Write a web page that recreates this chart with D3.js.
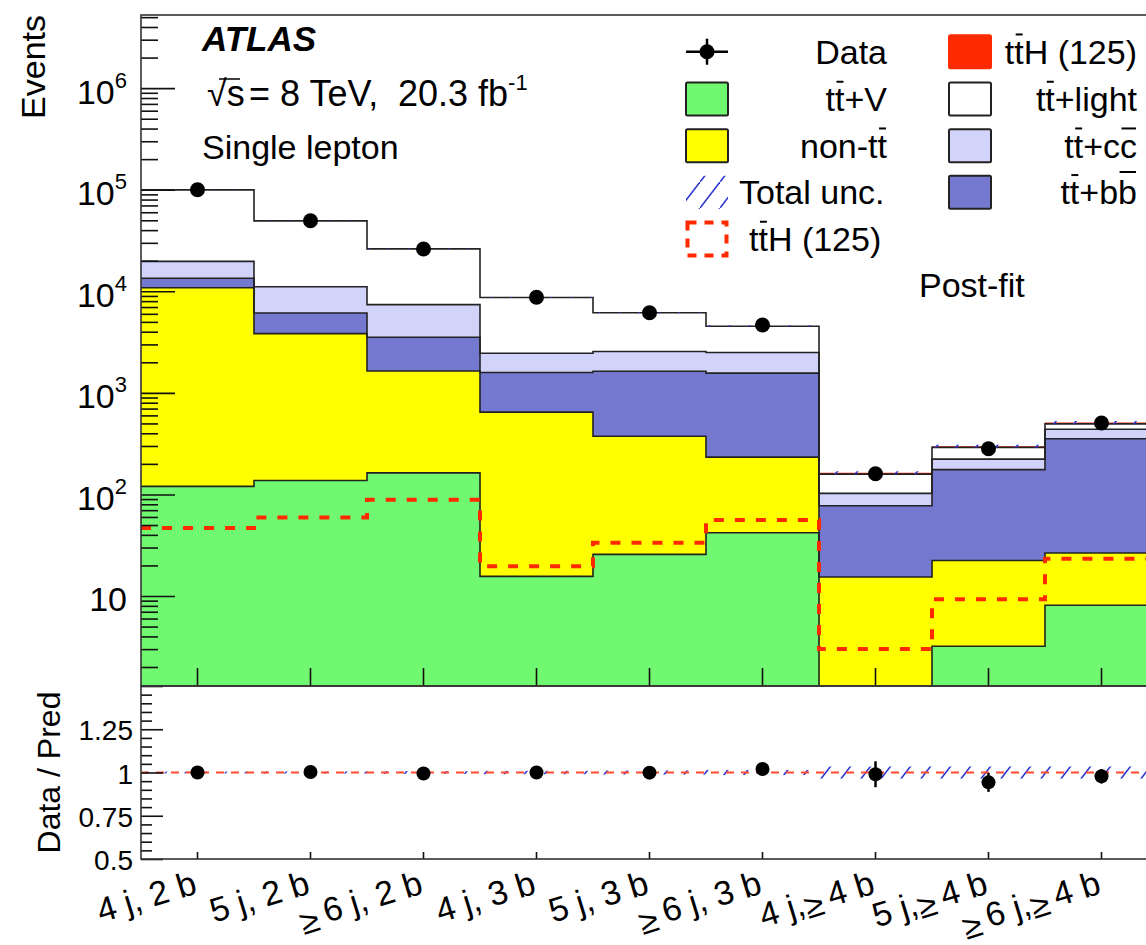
<!DOCTYPE html>
<html>
<head>
<meta charset="utf-8">
<script src="https://cdn.jsdelivr.net/npm/d3@7"></script>
<style>
  body { margin: 0; background: #fff; }
  text { font-family: "Liberation Sans", Arial, Helvetica, sans-serif; fill: #000; }
</style>
</head>
<body>
<div id="chart"></div>
<script>
// categories (jet / b-tag bins)
const categories = ["4 j, 2 b", "5 j, 2 b", "\u2265\u20096 j, 2 b", "4 j, 3 b", "5 j, 3 b", "\u2265\u20096 j, 3 b",
  "4 j,\u2265\u20094 b", "5 j,\u2265\u20094 b", "\u2265\u20096 j,\u2265\u20094 b"];

// post-fit stacked backgrounds (events)
const ttV     = [120, 137, 163, 15.6, 25.7, 42, 1.1, 3.2, 8.1];
const nonTT   = [10700, 3690, 1480, 630, 348, 191, 14.3, 19.2, 18.4];
const ttbb    = [2600, 2290, 1880, 940, 1260, 1330, 62, 153, 327];
const ttcc    = [6300, 4980, 3860, 865, 920, 930, 25, 47, 85];
const ttlight = [80000, 38300, 18800, 6250, 3600, 2040, 56, 68, 57];
const ttHfit  = [25, 30, 45, 10, 16, 28, 5, 8, 15];

// ttH (125) signal overlay, dashed
const ttHsm = [46.7, 59.4, 88.7, 19.6, 33.5, 55.9, 3.0, 9.3, 23.3];

// data
const data = [100000, 49500, 26100, 8750, 6150, 4650, 160, 282, 505];

// ratio panel
const ratio    = [1.0, 1.003, 0.994, 1.0, 0.999, 1.02, 0.99, 0.943, 0.978];
const ratioErr = [0.003, 0.005, 0.006, 0.011, 0.013, 0.015, 0.075, 0.055, 0.042];
const totalUnc = [0.005, 0.006, 0.008, 0.01, 0.012, 0.015, 0.035, 0.035, 0.035];

const W = 1146, H = 945;
const pLeft = 141, pRight = 1158, pTop = 15, mainBottom = 686, ratioBottom = 859;
const yMin = 1.3, yMax = 5.25e6;

const colors = {
  ttV: "#70f870", nonTT: "#ffff00", ttbb: "#7479cf", ttcc: "#d2d3fb", ttlight: "#ffffff", ttH: "#ff2a00"
};
const keys = ["ttV", "nonTT", "ttbb", "ttcc", "ttlight", "ttH"];
const series = { ttV, nonTT, ttbb, ttcc, ttlight, ttH: ttHfit };

const rows = categories.map((c, i) => {
  const r = { cat: c };
  keys.forEach(k => r[k] = series[k][i]);
  return r;
});

const svg = d3.select("#chart").append("svg")
  .attr("width", W).attr("height", H);

const defs = svg.append("defs");
defs.append("clipPath").attr("id", "clipMain")
  .append("rect").attr("x", pLeft).attr("y", pTop).attr("width", pRight - pLeft).attr("height", mainBottom - pTop);
defs.append("clipPath").attr("id", "clipRatio")
  .append("rect").attr("x", pLeft).attr("y", mainBottom).attr("width", pRight - pLeft).attr("height", ratioBottom - mainBottom);

// blue /// hatch
const hatch = defs.append("pattern").attr("id", "hatch")
  .attr("patternUnits", "userSpaceOnUse").attr("width", 20).attr("height", 26);
hatch.append("line").attr("x1", -2).attr("y1", 28.6).attr("x2", 22).attr("y2", -2.6)
  .attr("stroke", "#2a35d0").attr("stroke-width", 1.6);

const x = d3.scaleBand().domain(categories).range([pLeft, pRight]).paddingInner(0).paddingOuter(0);
const bw = x.bandwidth();
const y = d3.scaleLog().domain([yMin, yMax]).range([mainBottom, pTop]);
const yr = d3.scaleLinear().domain([0.5, 1.5]).range([ratioBottom, mainBottom]);
const yc = v => y(Math.max(v, yMin * 0.9));

const stacked = d3.stack().keys(keys)(rows);

const stepPts = s => s.flatMap((d, i) => [
  { x: x(categories[i]), lo: d[0], hi: d[1] },
  { x: x(categories[i]) + bw, lo: d[0], hi: d[1] }
]);

const main = svg.append("g").attr("clip-path", "url(#clipMain)");

const area = d3.area().x(p => p.x).y0(p => yc(p.lo)).y1(p => yc(p.hi));
const topLine = d3.line().x(p => p.x).y(p => yc(p.hi));

main.selectAll("path.layer")
  .data(stacked)
  .join("path")
  .attr("class", "layer")
  .attr("d", s => area(stepPts(s)))
  .attr("fill", s => colors[s.key]);

// black outlines on the backgrounds; the thin red ttH band sits on top unoutlined
main.selectAll("path.outline")
  .data(stacked.filter(s => s.key !== "ttH"))
  .join("path")
  .attr("class", "outline")
  .attr("d", s => topLine(stepPts(s)))
  .attr("fill", "none")
  .attr("stroke", "#222")
  .attr("stroke-width", 1.6);

// total uncertainty band
const totals = stacked[stacked.length - 1].map(d => d[1]);
main.selectAll("rect.unc")
  .data(totals)
  .join("rect")
  .attr("class", "unc")
  .attr("x", (d, i) => x(categories[i]))
  .attr("width", bw)
  .attr("y", (d, i) => y(d * (1 + totalUnc[i])))
  .attr("height", (d, i) => y(d * (1 - totalUnc[i])) - y(d * (1 + totalUnc[i])))
  .attr("fill", "url(#hatch)");

// dashed ttH overlay
const sigPts = ttHsm.flatMap((v, i) => [[x(categories[i]), v], [x(categories[i]) + bw, v]]);
main.append("path")
  .attr("d", d3.line().x(p => p[0]).y(p => yc(p[1]))(sigPts))
  .attr("fill", "none")
  .attr("stroke", "#ff2a00")
  .attr("stroke-width", 4)
  .attr("stroke-dasharray", "10,11");

// data points
main.selectAll("circle.data")
  .data(data)
  .join("circle")
  .attr("class", "data")
  .attr("cx", (d, i) => x(categories[i]) + bw / 2)
  .attr("cy", d => y(d))
  .attr("r", 7.5)
  .attr("fill", "#000");

// ratio panel
const rp = svg.append("g").attr("clip-path", "url(#clipRatio)");
rp.selectAll("rect.unc")
  .data(totalUnc)
  .join("rect")
  .attr("x", (d, i) => x(categories[i]))
  .attr("width", bw)
  .attr("y", d => yr(1 + d))
  .attr("height", d => yr(1 - d) - yr(1 + d))
  .attr("fill", "url(#hatch)");
rp.append("line")
  .attr("x1", pLeft).attr("x2", pRight)
  .attr("y1", yr(1)).attr("y2", yr(1))
  .attr("stroke", "#ff4a30").attr("stroke-width", 2).attr("stroke-dasharray", "8,7");
rp.selectAll("line.err")
  .data(ratio)
  .join("line")
  .attr("class", "err")
  .attr("x1", (d, i) => x(categories[i]) + bw / 2)
  .attr("x2", (d, i) => x(categories[i]) + bw / 2)
  .attr("y1", (d, i) => yr(d + ratioErr[i]))
  .attr("y2", (d, i) => yr(d - ratioErr[i]))
  .attr("stroke", "#000").attr("stroke-width", 2.5);
rp.selectAll("circle")
  .data(ratio)
  .join("circle")
  .attr("cx", (d, i) => x(categories[i]) + bw / 2)
  .attr("cy", d => yr(d))
  .attr("r", 7)
  .attr("fill", "#000");

// axes
const expOf = v => Math.round(Math.log10(v));
const yAxis = svg.append("g").attr("transform", `translate(${pLeft},0)`)
  .call(d3.axisLeft(y)
    .tickValues([10, 1e2, 1e3, 1e4, 1e5, 1e6])
    .tickSize(-34).tickPadding(14)
    .tickFormat(""));
yAxis.selectAll(".tick text").each(function(d) {
  const t = d3.select(this).attr("font-size", 34).attr("dy", "0.44em");
  t.append("tspan").text("10");
  if (d > 10) t.append("tspan").attr("font-size", 22).attr("dy", -16).text(expOf(d));
});

const minorTicks = d3.range(0, 7).flatMap(k => d3.range(2, 10).map(m => m * 10 ** k))
  .filter(v => v > yMin && v < yMax);
svg.append("g").attr("transform", `translate(${pLeft},0)`)
  .call(d3.axisLeft(y).tickValues(minorTicks).tickSize(-17).tickFormat(""));

const rAxis = svg.append("g").attr("transform", `translate(${pLeft},0)`)
  .call(d3.axisLeft(yr).tickValues([0.5, 0.75, 1, 1.25, 1.5]).tickSize(-22).tickPadding(8)
    .tickFormat(d => d === 1.5 ? "" : d));
rAxis.selectAll(".tick text").attr("font-size", 28).attr("dy", "0.38em");
svg.append("g").attr("transform", `translate(${pLeft},0)`)
  .call(d3.axisLeft(yr).tickValues(d3.range(0.55, 1.5, 0.05).filter(v => Math.abs((v - 0.5) / 0.25 - Math.round((v - 0.5) / 0.25)) > 0.01))
    .tickSize(-11).tickFormat(""));

svg.append("g").attr("transform", `translate(0,${mainBottom})`)
  .call(d3.axisBottom(x).tickSize(-18).tickSizeOuter(0).tickFormat(""));

const xAxis = svg.append("g").attr("transform", `translate(0,${ratioBottom})`)
  .call(d3.axisBottom(x).tickSize(-7).tickSizeOuter(0));
xAxis.selectAll(".tick text")
  .attr("font-size", 34)
  .attr("text-anchor", "end")
  .attr("x", 0).attr("y", 0).attr("dy", null)
  .attr("transform", "translate(1,34) rotate(-17)")
  .each(function(d) {
    // the >= sign sits a little below the line, as in the original
    const t = d3.select(this).text(null);
    let low = false;
    d.split(/(\u2265)/).filter(s => s).forEach(part => {
      const isGe = part === "\u2265";
      const dy = isGe ? (low ? 0 : 5) : (low ? -5 : 0);
      t.append("tspan").attr("dy", dy).text(part);
      low = isGe;
    });
  });

svg.selectAll(".domain").remove();
svg.selectAll(".tick line").attr("stroke", "#111").attr("stroke-width", 1.6);
svg.selectAll("g").attr("font-family", null);

// frames
svg.append("rect").attr("x", pLeft).attr("y", pTop).attr("width", pRight - pLeft).attr("height", mainBottom - pTop)
  .attr("fill", "none").attr("stroke", "#333").attr("stroke-width", 1.6);
svg.append("rect").attr("x", pLeft).attr("y", mainBottom).attr("width", pRight - pLeft).attr("height", ratioBottom - mainBottom)
  .attr("fill", "none").attr("stroke", "#333").attr("stroke-width", 1.6);

// axis titles
svg.append("text").attr("transform", `translate(45,${pTop}) rotate(-90)`)
  .attr("text-anchor", "end").attr("font-size", 34).text("Events");
svg.append("text").attr("transform", `translate(60,${(mainBottom + ratioBottom) / 2}) rotate(-90)`)
  .attr("text-anchor", "middle").attr("font-size", 32).text("Data / Pred");

// labels with bars: "~" marks the next char as barred
function barText(parent, spec, px, py, anchor, fs) {
  let plain = "";
  const bars = [];
  for (const ch of spec) {
    if (ch === "~") { bars.push(plain.length); continue; }
    plain += ch;
  }
  const t = parent.append("text").attr("x", px).attr("y", py)
    .attr("text-anchor", anchor).attr("font-size", fs).text(plain);
  bars.forEach(k => {
    const e = t.node().getExtentOfChar(k);
    const h = plain[k] === "b" ? 0.95 : 0.86;
    parent.append("line")
      .attr("x1", e.x + 1.5).attr("x2", e.x + e.width - 1)
      .attr("y1", py - h * fs).attr("y2", py - h * fs)
      .attr("stroke", "#000").attr("stroke-width", 2);
  });
  return t;
}

svg.append("text").attr("x", 202).attr("y", 51)
  .attr("font-size", 35).attr("font-weight", "bold").attr("font-style", "italic").text("ATLAS");

// sqrt(s) = 8 TeV, 20.3 fb-1
const lumi = svg.append("text").attr("y", 106).attr("font-size", 36);
lumi.append("tspan").attr("x", 207).text("\u221As");
lumi.append("tspan").attr("x", 249).text("= 8 TeV,");
lumi.append("tspan").attr("x", 398).text("20.3 fb");
lumi.append("tspan").attr("font-size", 22).attr("dy", -16).text("-1");
svg.append("line").attr("x1", 219).attr("x2", 240)
  .attr("y1", 79).attr("y2", 79).attr("stroke", "#000").attr("stroke-width", 1.5);

svg.append("text").attr("x", 202).attr("y", 159).attr("font-size", 34).text("Single lepton");
svg.append("text").attr("x", 919).attr("y", 297).attr("font-size", 34).text("Post-fit");

// legend
const leg = svg.append("g");
const rowsY = [51.7, 99, 145.7, 192.3, 239];
const boxW = 42, boxH = 33;
const col1 = 686, col2 = 949, text1 = 887, text2 = 1137;

// Data
leg.append("line").attr("x1", col1).attr("x2", col1 + boxW).attr("y1", rowsY[0]).attr("y2", rowsY[0])
  .attr("stroke", "#000").attr("stroke-width", 2.5);
leg.append("line").attr("x1", col1 + boxW / 2).attr("x2", col1 + boxW / 2).attr("y1", rowsY[0] - 13).attr("y2", rowsY[0] + 13)
  .attr("stroke", "#000").attr("stroke-width", 2.5);
leg.append("circle").attr("cx", col1 + boxW / 2).attr("cy", rowsY[0]).attr("r", 7.5).attr("fill", "#000");
barText(leg, "Data", text1, rowsY[0] + 12, "end", 34);

const leftBoxes = [["ttV", "t~t+V"], ["nonTT", "non-t~t"]];
leftBoxes.forEach(([k, lab], i) => {
  leg.append("rect").attr("x", col1).attr("y", rowsY[i + 1] - boxH / 2).attr("width", boxW).attr("height", boxH)
    .attr("fill", colors[k]).attr("stroke", "#222").attr("stroke-width", 2).attr("rx", 1.5);
  barText(leg, lab, text1, rowsY[i + 1] + 12, "end", 34);
});
leg.append("rect").attr("x", col1).attr("y", rowsY[3] - boxH / 2).attr("width", boxW).attr("height", boxH)
  .attr("fill", "url(#hatch)");
barText(leg, "Total unc.", 739, rowsY[3] + 12, "start", 34);
leg.append("rect").attr("x", col1 + 1.5).attr("y", rowsY[4] - boxH / 2).attr("width", boxW - 3).attr("height", boxH)
  .attr("fill", "none").attr("stroke", "#ff2a00").attr("stroke-width", 4).attr("stroke-dasharray", "9,8");
barText(leg, "t~tH (125)", 749, rowsY[4] + 12, "start", 34);

const rightBoxes = [["ttH", "t~tH (125)"], ["ttlight", "t~t+light"], ["ttcc", "t~t+c~c"], ["ttbb", "t~t+b~b"]];
rightBoxes.forEach(([k, lab], i) => {
  leg.append("rect").attr("x", col2).attr("y", rowsY[i] - boxH / 2).attr("width", boxW).attr("height", boxH)
    .attr("fill", colors[k]).attr("stroke", k === "ttH" ? colors.ttH : "#222").attr("stroke-width", 2).attr("rx", 1.5);
  barText(leg, lab, text2, rowsY[i] + 12, "end", 34);
});
</script>
</body>
</html>
